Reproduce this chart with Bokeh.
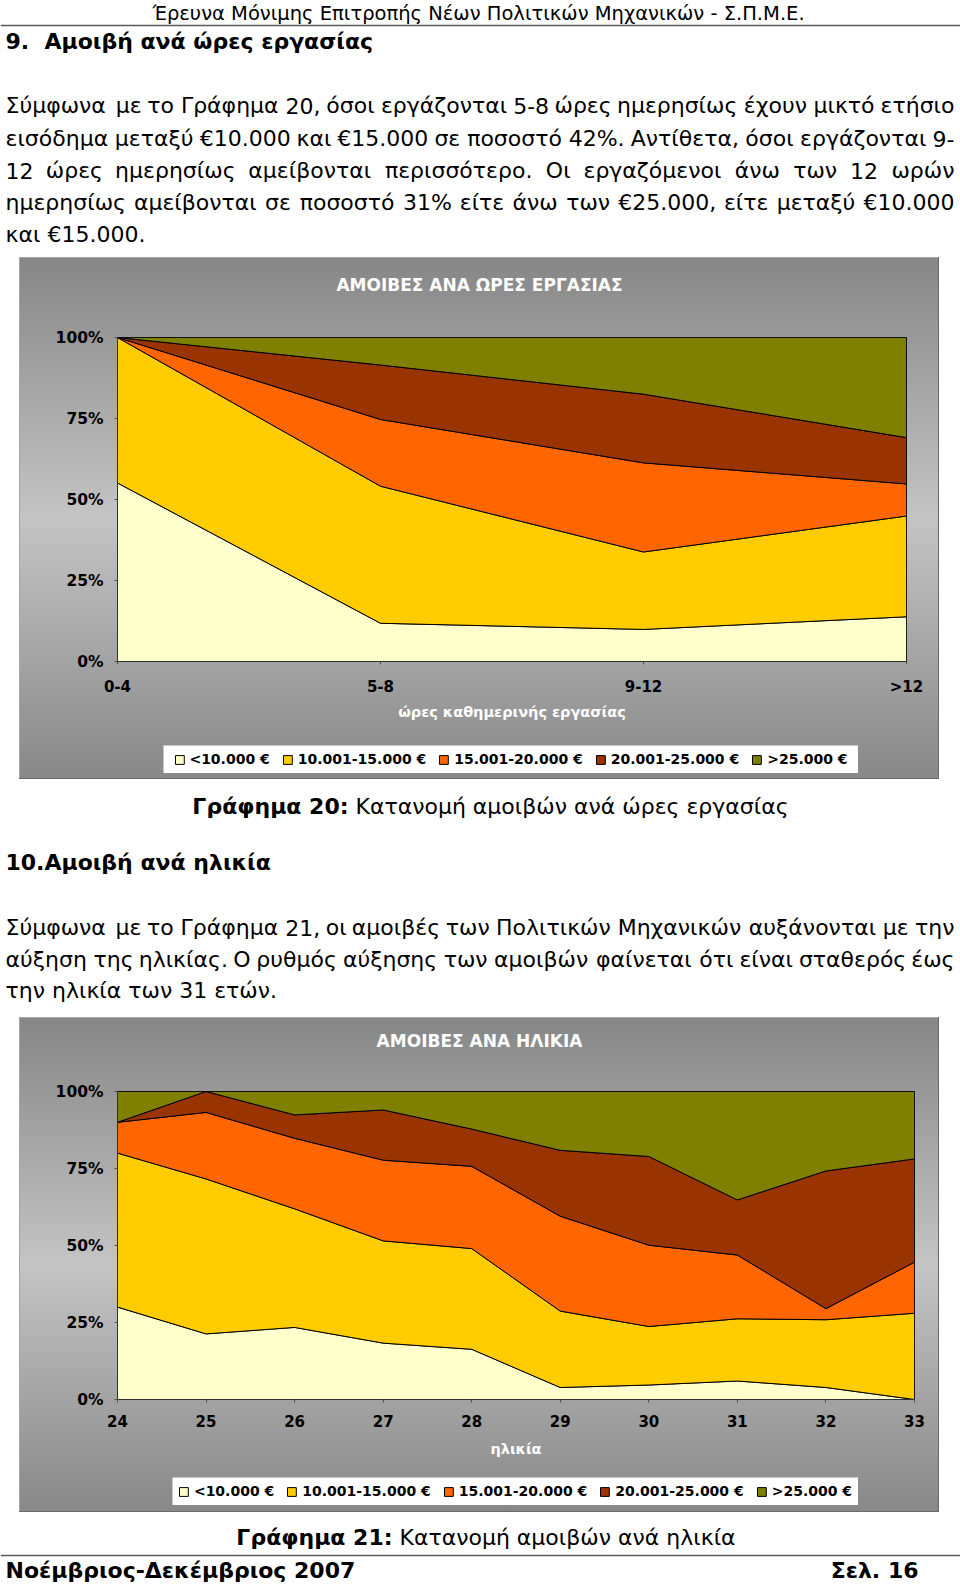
import numpy as np
from bokeh.plotting import figure
from bokeh.models import (Range1d, FixedTicker, Legend, LegendItem, Span, Spacer)
from bokeh.layouts import column, row
from bokeh.core.properties import value
from bokeh.embed import file_html
from bokeh.resources import INLINE

FONT = "DejaVu Sans"

# ---------------- data ----------------
series_labels = ["<10.000 €", "10.001-15.000 €", "15.001-20.000 €",
                 "20.001-25.000 €", ">25.000 €"]
series_colors = ["#FFFFCC", "#FFCC00", "#FF6600", "#993300", "#808000"]

hours = ["0-4", "5-8", "9-12", ">12"]
h_lt10 = [55.1, 11.8, 9.9, 13.8]
h_10_15 = [44.9, 42.3, 23.9, 31.1]
h_15_20 = [0.0, 20.6, 27.5, 9.9]
h_20_25 = [0.0, 16.8, 21.2, 14.3]
h_gt25 = [0.0, 8.5, 17.5, 30.9]

ages = [24, 25, 26, 27, 28, 29, 30, 31, 32, 33]
a_lt10 = [30.0, 21.3, 23.4, 18.3, 16.3, 3.9, 4.7, 6.0, 3.9, 0.0]
a_10_15 = [50.0, 50.3, 38.5, 33.2, 32.7, 24.8, 19.0, 20.2, 22.0, 28.0]
a_15_20 = [10.0, 21.6, 22.9, 26.2, 26.7, 30.8, 26.4, 20.7, 3.6, 16.6]
a_20_25 = [0.0, 6.8, 7.6, 16.3, 12.1, 21.4, 28.8, 17.9, 44.7, 33.5]
a_gt25 = [10.0, 0.0, 7.6, 6.0, 12.2, 19.1, 21.1, 35.2, 25.8, 21.9]

pct_ticks = [0, 25, 50, 75, 100]
pct_labels = ["0%", "25%", "50%", "75%", "100%"]

# ---------------- texts ----------------
header = "Έρευνα Μόνιμης Επιτροπής Νέων Πολιτικών Μηχανικών - Σ.Π.Μ.Ε."
heading1 = "9.\u00a0 Αμοιβή ανά ώρες εργασίας"
para1 = ["Σύμφωνα με το Γράφημα 20, όσοι εργάζονται 5-8 ώρες ημερησίως έχουν μικτό ετήσιο",
         "εισόδημα μεταξύ €10.000 και €15.000 σε ποσοστό 42%. Αντίθετα, όσοι εργάζονται 9-",
         "12 ώρες ημερησίως αμείβονται περισσότερο. Οι εργαζόμενοι άνω των 12 ωρών",
         "ημερησίως αμείβονται σε ποσοστό 31% είτε άνω των €25.000, είτε μεταξύ €10.000"]
para1_last = "και €15.000."
chart1_title = "ΑΜΟΙΒΕΣ ΑΝΑ ΩΡΕΣ ΕΡΓΑΣΙΑΣ"
chart1_xlabel = "ώρες καθημερινής εργασίας"
cap1_bold = "Γράφημα 20:"
cap1_text = "Κατανομή αμοιβών ανά ώρες εργασίας"
heading2 = "10.Αμοιβή ανά ηλικία"
para2 = ["Σύμφωνα με το Γράφημα 21, οι αμοιβές των Πολιτικών Μηχανικών αυξάνονται με την",
         "αύξηση της ηλικίας. Ο ρυθμός αύξησης των αμοιβών φαίνεται ότι είναι σταθερός έως"]
para2_last = "την ηλικία των 31 ετών."
chart2_title = "ΑΜΟΙΒΕΣ ΑΝΑ ΗΛΙΚΙΑ"
chart2_xlabel = "ηλικία"
cap2_bold = "Γράφημα 21:"
cap2_text = "Κατανομή αμοιβών ανά ηλικία"
footer_left = "Νοέμβριος-Δεκέμβριος 2007"
footer_right = "Σελ. 16"

# approximate advance widths (em) used to spread words of justified lines
CW = {' ': 0.318, '.': 0.318, ',': 0.318, '-': 0.361, '%': 0.950, ':': 0.337}
for ch in "0123456789€":
    CW[ch] = 0.636
CW.update({'α': 0.659, 'ά': 0.659, 'β': 0.638, 'γ': 0.592, 'δ': 0.612, 'ε': 0.541,
           'έ': 0.541, 'ζ': 0.544, 'η': 0.634, 'ή': 0.634, 'θ': 0.612, 'ι': 0.338,
           'ί': 0.338, 'κ': 0.589, 'λ': 0.592, 'μ': 0.636, 'ν': 0.592, 'ξ': 0.568,
           'ο': 0.612, 'ό': 0.612, 'π': 0.650, 'ρ': 0.635, 'σ': 0.650, 'ς': 0.559,
           'τ': 0.602, 'υ': 0.611, 'ύ': 0.611, 'φ': 0.781, 'χ': 0.592, 'ψ': 0.781,
           'ω': 0.839, 'ώ': 0.839, 'Σ': 0.632, 'Γ': 0.557, 'Α': 0.684, 'Ο': 0.787,
           'Π': 0.752, 'Ε': 0.632, 'Μ': 0.863, 'Ν': 0.748})

BODY = 22
LEFT, RIGHT = 5, 954
PAGE_W = 960
BOX_L, BOX_R = 19, 939
FRAME_L = 117
GRADIENT = {"background": "linear-gradient(to bottom, #868686 0%, #c4c4c4 50%, #888888 100%)",
            "box-shadow": "inset -1px -1px 0 #6a6a6a, inset 1px 1px 0 #a8a8a8"}


def est(word, size):
    return sum(CW.get(c, 0.6) for c in word) * size


def txt(p, xs, ys, texts, align="left", bold=False, size=BODY, color="black"):
    p.text(x=xs, y=ys, text=texts, text_align=align, text_baseline="middle",
           text_font=value(FONT), text_font_size=f"{size}px",
           text_font_style="bold" if bold else "normal", text_color=color)


def justified(p, line, y, size=BODY):
    words = line.split(" ")
    ws = [est(w, size) for w in words]
    gap = (RIGHT - LEFT - sum(ws)) / (len(words) - 1)
    centers = []
    x = LEFT
    for w in ws:
        centers.append(x + w / 2)
        x += w + gap
    txt(p, [LEFT], [y], [words[0]], "left", size=size)
    txt(p, [RIGHT], [y], [words[-1]], "right", size=size)
    txt(p, centers[1:-1], [y] * (len(words) - 2), words[1:-1], "center", size=size)


def blank_fig(width, x0, x1, y0, y1, fill="white"):
    p = figure(width=width, height=int(y1 - y0), x_range=Range1d(x0, x1),
               y_range=Range1d(y1, y0), output_backend="svg",
               toolbar_location=None, title=None, min_border=0,
               x_axis_type=None, y_axis_type=None)
    p.outline_line_color = None
    p.background_fill_color = fill
    p.border_fill_color = fill
    return p


def chart_box(top, bottom, title_bottom, frame_top, frame_bottom, frame_right,
              legend_box, xr, x_ticks, x_labels, title, title_y, xlabel,
              label_standoff, axis_label_standoff, data):
    w = BOX_R - BOX_L
    lg_l, lg_r, lg_t, lg_b = legend_box

    # title strip (transparent, on the gradient); its inner frame is aligned
    # by the layout with the chart frame below, so map page x over that span
    tf = blank_fig(w, FRAME_L, frame_right, top, title_bottom, fill=None)
    txt(tf, [(BOX_L + BOX_R) / 2], [title_y], [title], "center",
        bold=True, size=17, color="white")

    # chart proper
    p = figure(width=w, height=lg_t - 5 - title_bottom, x_range=Range1d(*xr),
               y_range=Range1d(0, 100), output_backend="svg",
               toolbar_location=None, title=None,
               min_border_left=FRAME_L - BOX_L,
               min_border_right=BOX_R - frame_right,
               min_border_top=frame_top - title_bottom,
               min_border_bottom=lg_t - 5 - frame_bottom)
    p.background_fill_color = None
    p.border_fill_color = None
    p.outline_line_color = "black"
    p.outline_line_width = 1
    p.grid.visible = False

    xs = np.array(data[0], dtype=float)
    base = np.zeros(len(xs))
    for vals, col in zip(data[1:], series_colors):
        top_v = base + np.array(vals, dtype=float)
        px = list(xs) + list(xs[::-1])
        py = list(top_v) + list(base[::-1])
        p.patch(px, py, fill_color=col, line_color="black", line_width=1)
        base = top_v

    for ax in (p.xaxis[0], p.yaxis[0]):
        ax.major_label_text_font = FONT
        ax.major_label_text_font_style = "bold"
        ax.major_label_text_color = "black"
        ax.major_tick_in = 0
        ax.major_tick_out = 3
        ax.major_tick_line_color = "#505050"
        ax.minor_tick_line_color = None
        ax.axis_line_color = "#303030"
    p.yaxis.ticker = FixedTicker(ticks=pct_ticks)
    p.yaxis.major_label_overrides = dict(zip(pct_ticks, pct_labels))
    p.yaxis.major_label_text_font_size = "15.5px"
    p.yaxis.major_label_standoff = 11
    p.xaxis.ticker = FixedTicker(ticks=list(x_ticks))
    p.xaxis.major_label_overrides = dict(zip(x_ticks, x_labels))
    p.xaxis.major_label_text_font_size = "15px"
    p.xaxis.major_label_standoff = label_standoff
    p.xaxis.axis_label = xlabel
    p.xaxis.axis_label_text_font = FONT
    p.xaxis.axis_label_text_font_style = "bold"
    p.xaxis.axis_label_text_font_size = "14.5px"
    p.xaxis.axis_label_text_color = "white"
    p.xaxis.axis_label_standoff = axis_label_standoff

    # legend strip: white box with the series keys (key stubs lie outside view)
    lf = figure(width=lg_r - lg_l, height=lg_b - lg_t, x_range=Range1d(0, 1),
                y_range=Range1d(0, 1), output_backend="svg", toolbar_location=None,
                title=None, min_border=0, x_axis_type=None, y_axis_type=None)
    lf.outline_line_color = None
    lf.background_fill_color = "white"
    lf.border_fill_color = "white"
    items = []
    for col, lab in zip(series_colors, series_labels):
        r = lf.patch(x=[-5, -4, -4], y=[-5, -5, -4], fill_color=col,
                     line_color="black", line_width=1)
        items.append(LegendItem(label=lab, renderers=[r]))
    leg = Legend(items=items, location="center", orientation="horizontal",
                 label_text_font=FONT, label_text_font_style="bold",
                 label_text_font_size="14px", label_text_color="black",
                 glyph_width=11, glyph_height=11, label_standoff=5, spacing=12,
                 padding=0, margin=0, label_height=14,
                 background_fill_alpha=0, border_line_color=None)
    lf.add_layout(leg)

    legend_row = row(Spacer(width=lg_l - BOX_L, height=lg_b - lg_t), lf)
    box = column(tf, p, Spacer(width=w, height=5), legend_row,
                 Spacer(width=w, height=bottom - lg_b))
    box.styles = GRADIENT
    return row(Spacer(width=BOX_L, height=bottom - top), box)


# ---------------- page part 1 ----------------
t1 = blank_fig(PAGE_W, 0, PAGE_W, 0, 257)
t1.add_layout(Span(location=25, dimension="width", line_color="#5a5a5a", line_width=1.5))
txt(t1, [478], [13], [header], "center", size=19.5)
txt(t1, [LEFT], [41], [heading1], "left", bold=True)
for ln, yy in zip(para1, [105, 138, 170, 202]):
    justified(t1, ln, yy)
txt(t1, [LEFT], [234], [para1_last], "left")

# ---------------- chart 1 ----------------
c1 = chart_box(257, 779, 310, 337, 661, 906, (163, 858, 745, 773),
               (0, len(hours) - 1), list(range(len(hours))), hours,
               chart1_title, 284, chart1_xlabel, 13, 5,
               [list(range(len(hours))), h_lt10, h_10_15, h_15_20, h_20_25, h_gt25])

# ---------------- page part 2 ----------------
t2 = blank_fig(PAGE_W, 0, PAGE_W, 779, 1017)
txt(t2, [348], [806], [cap1_bold], "right", bold=True)
txt(t2, [355], [806], [cap1_text], "left")
txt(t2, [LEFT], [862], [heading2], "left", bold=True)
for ln, yy in zip(para2, [927, 959]):
    justified(t2, ln, yy)
txt(t2, [LEFT], [990], [para2_last], "left")

# ---------------- chart 2 ----------------
c2 = chart_box(1017, 1512, 1064, 1091, 1399, 914, (172, 858, 1477, 1505),
               (ages[0], ages[-1]), ages, [str(a) for a in ages],
               chart2_title, 1040, chart2_xlabel, 12, 11,
               [ages, a_lt10, a_10_15, a_15_20, a_20_25, a_gt25])

# ---------------- page part 3 ----------------
t3 = blank_fig(PAGE_W, 0, PAGE_W, 1512, 1584)
txt(t3, [392], [1537], [cap2_bold], "right", bold=True)
txt(t3, [399], [1537], [cap2_text], "left")
t3.add_layout(Span(location=1555, dimension="width", line_color="#5a5a5a", line_width=1.5))
txt(t3, [LEFT], [1570], [footer_left], "left", bold=True)
txt(t3, [918], [1570], [footer_right], "right", bold=True)

page = column(t1, c1, t2, c2, t3)

open("out.html", "w").write(file_html(page, INLINE))
